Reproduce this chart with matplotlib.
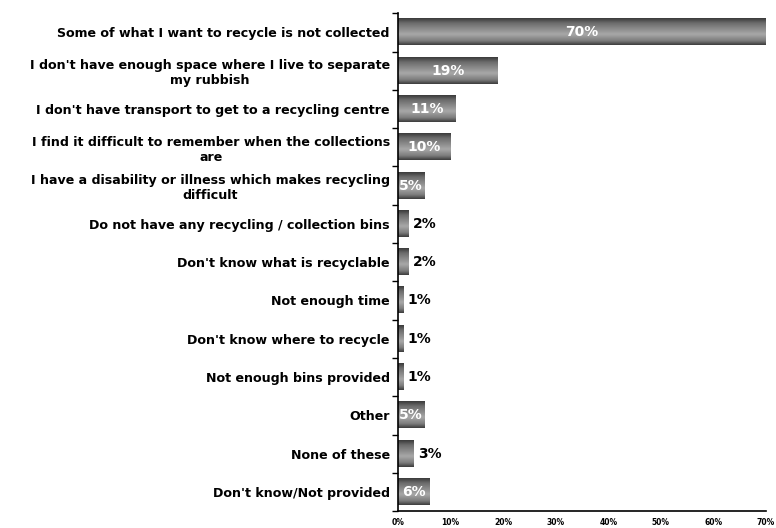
import numpy as np
import matplotlib
matplotlib.use('Agg')
import matplotlib.pyplot as plt
from matplotlib.colors import LinearSegmentedColormap

reasons = [
    "Some of what I want to recycle is not collected",
    "I don't have enough space where I live to separate\nmy rubbish",
    "I don't have transport to get to a recycling centre",
    "I find it difficult to remember when the collections\nare",
    "I have a disability or illness which makes recycling\ndifficult",
    "Do not have any recycling / collection bins",
    "Don't know what is recyclable",
    "Not enough time",
    "Don't know where to recycle",
    "Not enough bins provided",
    "Other",
    "None of these",
    "Don't know/Not provided",
]
percents = [70, 19, 11, 10, 5, 2, 2, 1, 1, 1, 5, 3, 6]
xticks = [0, 10, 20, 30, 40, 50, 60, 70]

# shaded grey fill: dark edges, lighter band just below the middle
shade = LinearSegmentedColormap.from_list(
    "shade", [(0.0, "#3a3a3a"), (0.18, "#6c6c6c"), (0.6, "#a8a8a8"),
              (0.85, "#7c7c7c"), (1.0, "#3c3c3c")])
grad = np.linspace(0, 1, 64).reshape(-1, 1)

fig = plt.figure(figsize=(7.76, 5.28), dpi=100)
ax = fig.add_axes([0.513, 0.032, 0.474, 0.943])

n = len(reasons)
pos = np.arange(n)
h = 0.68
bars = ax.barh(pos, percents, height=h, color="none", edgecolor="none")
for b, v, y in zip(bars, percents, pos):
    ax.imshow(grad, cmap=shade, aspect="auto", interpolation="bicubic",
              extent=(0, v, y + h / 2, y - h / 2), zorder=2)
    if v >= 5:
        ax.text(v / 2, y, f"{v}%", color="white", fontsize=10, fontweight="bold",
                ha="center", va="center", zorder=3)
    else:
        ax.annotate(f"{v}%", (v, y), xytext=(3, 0), textcoords="offset points",
                    color="black", fontsize=10, fontweight="bold",
                    ha="left", va="center", zorder=3)

ax.set_xlim(0, 70)
ax.set_ylim(n - 0.5, -0.5)

ax.set_yticks(pos)
ax.set_yticklabels(reasons, fontsize=9.1, fontweight="bold", ha="right",
                   multialignment="center")
ax.tick_params(axis="y", length=0, pad=6)
ax.set_yticks(np.arange(n + 1) - 0.5, minor=True)
ax.tick_params(axis="y", which="minor", length=4, width=1, direction="out")

ax.set_xticks(xticks)
ax.set_xticklabels([f"{t}%" for t in xticks], fontsize=5.5, fontweight="bold")
ax.tick_params(axis="x", length=0, pad=5)

for s in ("top", "right"):
    ax.spines[s].set_visible(False)
ax.spines["left"].set_linewidth(1.2)
ax.spines["bottom"].set_linewidth(1.2)

fig.savefig("out.png", dpi=100)
